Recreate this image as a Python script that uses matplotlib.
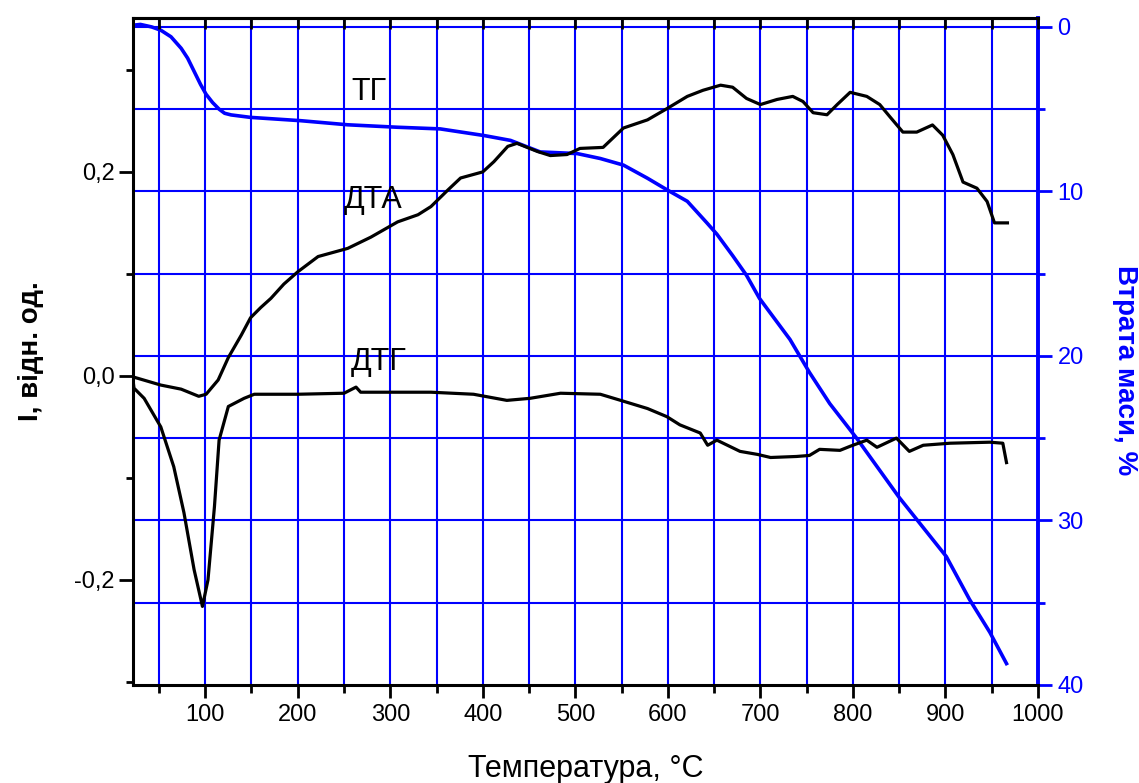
import numpy as np
import matplotlib
matplotlib.use("Agg")
import matplotlib.pyplot as plt
from matplotlib.ticker import MultipleLocator, FuncFormatter, NullFormatter

plt.rcParams['font.family'] = ['Liberation Sans', 'DejaVu Sans']

# ТГ - втрата маси, %
tg_t = [22, 30, 42, 52, 63, 74, 81, 88, 95, 101, 108, 115, 121, 128, 149, 203, 254,
        308, 354, 401, 430, 462, 502, 527, 552, 578, 599, 621, 642, 653, 670, 685,
        699, 732, 753, 775, 804, 850, 901, 926, 948, 966]
tg_m = [-0.1, -0.15, 0.0, 0.2, 0.6, 1.3, 1.9, 2.7, 3.5, 4.1, 4.6, 5.0, 5.25, 5.35,
        5.5, 5.7, 5.95, 6.1, 6.2, 6.6, 6.9, 7.6, 7.7, 8.0, 8.4, 9.2, 9.9, 10.6, 11.9,
        12.6, 13.9, 15.1, 16.5, 19.0, 21.0, 22.9, 25.0, 28.6, 32.2, 34.8, 36.8, 38.7]

# ДТА
dta_t = [22, 52, 74, 93, 101, 114, 125, 139, 149, 160, 171, 185, 200, 222, 254, 279,
         308, 330, 344, 362, 376, 400, 412, 427, 437, 459, 473, 491, 505, 530, 552,
         578, 599, 621, 638, 657, 670, 685, 700, 718, 735, 746, 757, 772, 783, 797,
         815, 829, 840, 854, 869, 886, 897, 908, 919, 934, 945, 953, 967]
dta_v = [-0.001, -0.009, -0.013, -0.020, -0.018, -0.004, 0.018, 0.040, 0.057,
         0.067, 0.076, 0.090, 0.102, 0.117, 0.125, 0.136, 0.151, 0.158, 0.166,
         0.182, 0.194, 0.200, 0.210, 0.225, 0.228, 0.220, 0.216, 0.217, 0.223,
         0.224, 0.243, 0.251, 0.262, 0.274, 0.280, 0.285, 0.283, 0.272, 0.266,
         0.271, 0.274, 0.269, 0.258, 0.256, 0.266, 0.278, 0.274, 0.266, 0.254,
         0.239, 0.239, 0.246, 0.236, 0.217, 0.190, 0.184, 0.171, 0.150, 0.150]

# ДТГ
dtg_t = [22, 23, 34, 52, 66, 77, 88, 97, 103, 110, 115, 125, 142, 153, 200, 250,
         263, 268, 344, 390, 426, 451, 484, 527, 549, 578, 599, 613, 635, 643, 653,
         678, 697, 711, 739, 753, 764, 786, 797, 815, 826, 847, 861, 876, 905, 948,
         962, 966]
dtg_v = [-0.004, -0.012, -0.022, -0.050, -0.089, -0.134, -0.190, -0.226, -0.200,
         -0.128, -0.063, -0.030, -0.022, -0.018, -0.018, -0.017, -0.011, -0.016,
         -0.016, -0.018, -0.024, -0.022, -0.017, -0.018, -0.024, -0.032, -0.040,
         -0.048, -0.056, -0.068, -0.063, -0.074, -0.077, -0.080, -0.079, -0.078,
         -0.072, -0.073, -0.069, -0.063, -0.070, -0.061, -0.074, -0.068, -0.066,
         -0.065, -0.066, -0.085]

blue = '#0000ff'

fig = plt.figure(figsize=(11.39, 7.83), dpi=100)
ax = fig.add_axes([0.1168, 0.1252, 0.7945, 0.852])
ax2 = ax.twinx()
# black curves above the blue grid
ax.set_zorder(ax2.get_zorder() + 1)
ax.patch.set_visible(False)

ax.set_xlim(22, 1000)
ax.set_ylim(-0.303, 0.351)
ax2.set_ylim(40, -0.55)

# grid lives on the twin axis (behind)
for xv in np.arange(50, 1000, 50):
    ax2.axvline(xv, color=blue, lw=1.5, zorder=0)
for yv in np.arange(0, 40, 5):
    ax2.axhline(yv, color=blue, lw=1.5, zorder=0)

ax2.plot(tg_t, tg_m, color=blue, lw=2.6, zorder=2)
ax.plot(dta_t, dta_v, color='black', lw=2.3)
ax.plot(dtg_t, dtg_v, color='black', lw=2.3)

ax.text(277, 0.278, 'ТГ', fontsize=22, ha='center', va='center')
ax.text(282, 0.1725, 'ДТА', fontsize=22, ha='center', va='center')
ax.text(287, 0.0137, 'ДТГ', fontsize=22, ha='center', va='center')

# left / bottom axis
ax.xaxis.set_major_locator(MultipleLocator(100))
ax.xaxis.set_minor_locator(MultipleLocator(50))
ax.yaxis.set_major_locator(MultipleLocator(0.2))
ax.yaxis.set_minor_locator(MultipleLocator(0.1))
ax.yaxis.set_major_formatter(FuncFormatter(lambda v, p: f'{v:.1f}'.replace('.', ',').replace('-0,0', '0,0')))
ax.tick_params(axis='x', which='major', direction='out', length=9, width=2,
               labelsize=17, pad=5)
ax.tick_params(axis='x', which='minor', direction='out', length=6, width=2)
ax.tick_params(axis='y', which='major', direction='out', length=10, width=2,
               labelsize=17, pad=3)
ax.tick_params(axis='y', which='minor', direction='out', length=5, width=2)

# top axis: inward ticks, no labels
top = ax.secondary_xaxis('top')
top.xaxis.set_major_locator(MultipleLocator(50))
top.xaxis.set_major_formatter(NullFormatter())
top.tick_params(axis='x', which='major', direction='in', length=8, width=2)
top.spines['top'].set_linewidth(2.2)

for s in ['left', 'bottom', 'top']:
    ax.spines[s].set_linewidth(2.2)
ax.spines['right'].set_visible(False)

ax.set_xlabel('Температура, °C', fontsize=22, labelpad=20)
ax.set_ylabel('I, відн. од.', fontsize=20, fontweight='bold', labelpad=22)

# right axis
for s in ['left', 'bottom', 'top']:
    ax2.spines[s].set_visible(False)
ax2.spines['right'].set_color(blue)
ax2.spines['right'].set_linewidth(2.8)
ax2.yaxis.set_major_locator(MultipleLocator(10))
ax2.yaxis.set_minor_locator(MultipleLocator(5))
ax2.tick_params(axis='y', which='major', direction='out', length=10, width=2,
                colors=blue, labelsize=17, pad=4)
ax2.tick_params(axis='y', which='minor', direction='out', length=5, width=2,
                colors=blue)
ax2.set_ylabel('Втрата маси, %', fontsize=20, fontweight='bold', color=blue,
               rotation=270, ha='center', va='center')
ax2.yaxis.set_label_coords(1.096, 0.472)

fig.savefig('out.png', dpi=100)
